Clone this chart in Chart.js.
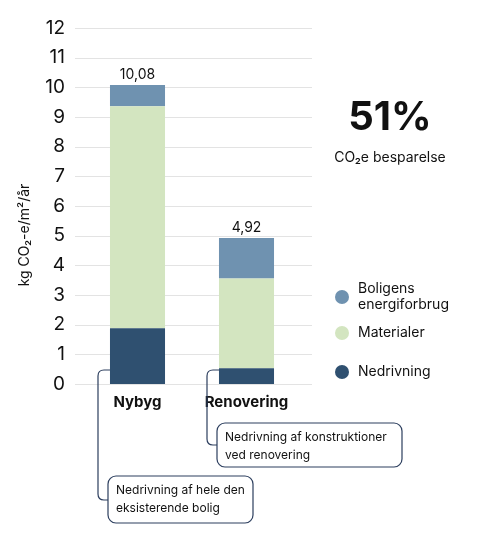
<!DOCTYPE html><html><head><meta charset="utf-8">
<script src="https://cdn.jsdelivr.net/npm/chart.js@4"></script>
<style>body{margin:0;background:#fff}#w{position:relative;width:480px;height:534px}</style></head><body>
<div id="w"><canvas id="c" width="480" height="534"></canvas></div>
<script>
const categories=["Nybyg","Renovering"];
const nedrivning=[1.88,0.53];
const materialer=[7.48,3.03];
const boligens=[0.72,1.36];
const totals=["10,08","4,92"];
const yTicks=[0,1,2,3,4,5,6,7,8,9,10,11,12];
const F="Inter, 'Noto Sans', sans-serif";
const DARK="#2c3e5e";
const extras={id:"extras",
beforeDatasetsDraw(ch){const c=ch.ctx,y=ch.scales.y;c.save();c.strokeStyle="#e3e3e3";c.lineWidth=1;
yTicks.forEach(t=>{const p=Math.round(y.getPixelForValue(t))+0.5;c.beginPath();c.moveTo(75,p);c.lineTo(312,p);c.stroke();});c.restore();},
afterDraw(ch){const c=ch.ctx,x=ch.scales.x,y=ch.scales.y;c.save();
c.fillStyle="#111";c.font="14px "+F;c.textAlign="center";c.textBaseline="bottom";
categories.forEach((k,i)=>{const top=y.getPixelForValue(nedrivning[i]+materialer[i]+boligens[i]);c.fillText(totals[i],x.getPixelForValue(i),top-3);});
c.font="bold 15px "+F;c.textBaseline="top";categories.forEach((k,i)=>c.fillText(k,x.getPixelForValue(i),395));
c.save();c.translate(25,235);c.rotate(-Math.PI/2);c.font="14px "+F;c.textBaseline="middle";c.fillText("kg CO₂-e/m²/år",0,0);c.restore();
c.font="bold 40px "+F;c.textBaseline="alphabetic";c.fillText("51%",390,130);
c.font="14px "+F;c.fillText("CO₂e besparelse",390,162);
const lg=[["#6f92b0",297,["Boligens","energiforbrug"]],["#d3e5c0",333,["Materialer"]],["#2f5070",372,["Nedrivning"]]];
c.textAlign="left";c.textBaseline="middle";c.font="14px "+F;
lg.forEach(([col,yy,t])=>{c.fillStyle=col;c.beginPath();c.arc(342,yy,7,0,Math.PI*2);c.fill();c.fillStyle="#111";
t.forEach((s,j)=>c.fillText(s,358,yy-(t.length-1)*8+j*16));});
c.strokeStyle=DARK;c.lineWidth=1.2;
const co=[[0,98,500,108,476,145,47,["Nedrivning af hele den","eksisterende bolig"]],[1,207,445,217,423,185,44,["Nedrivning af konstruktioner","ved renovering"]]];
co.forEach(([i,lx,ly,bx,by,bw,bh,t])=>{const x0=x.getPixelForValue(i)-27.5;c.beginPath();c.moveTo(x0,370);c.lineTo(lx+6,370);c.quadraticCurveTo(lx,370,lx,376);c.lineTo(lx,ly-6);c.quadraticCurveTo(lx,ly,lx+6,ly);c.lineTo(bx,ly);c.stroke();
c.beginPath();c.roundRect(bx,by,bw,bh,8);c.fillStyle="#fff";c.fill();c.stroke();
c.fillStyle="#111";c.font="12px "+F;t.forEach((s,j)=>c.fillText(s,bx+8,by+14+j*18));});
c.restore();}};
new Chart(document.getElementById("c"),{type:"bar",
data:{labels:categories,datasets:[
{label:"Nedrivning",data:nedrivning,backgroundColor:"#2f5070"},
{label:"Materialer",data:materialer,backgroundColor:"#d3e5c0"},
{label:"Boligens energiforbrug",data:boligens,backgroundColor:"#6f92b0"}]},
options:{responsive:false,animation:false,events:[],layout:{padding:{left:0,right:179,top:28,bottom:142}},
datasets:{bar:{barPercentage:0.505,categoryPercentage:1}},
plugins:{legend:{display:false},tooltip:{enabled:false}},
scales:{x:{stacked:true,grid:{display:false},border:{display:false},ticks:{display:false}},
y:{stacked:true,min:0,max:12,afterFit(s){s.width=83;},grid:{display:false},border:{display:false},
ticks:{stepSize:1,color:"#111",font:{size:19,family:F},padding:10,callback:v=>yTicks.includes(v)?String(v):""}}}},
plugins:[extras]});
</script></body></html>
